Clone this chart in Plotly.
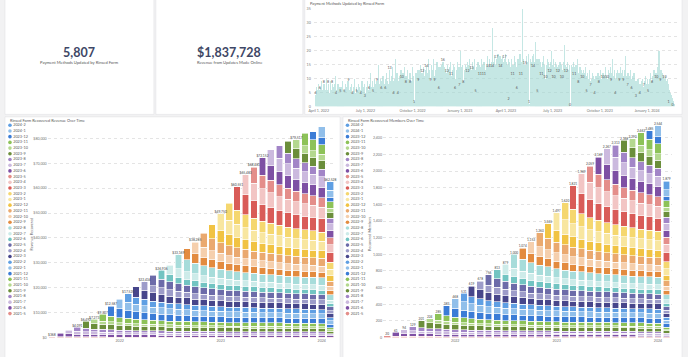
import plotly.graph_objects as go
from datetime import date, timedelta

W, H = 688, 357

# ---------------- data ----------------
kpi_values = ["5,807", "$1,837,728"]
kpi_labels = ["Payment Methods Updated by Rinsed Form", "Revenue from Updates Made Online"]

cohorts = ["2021-5", "2021-6", "2021-7", "2021-8", "2021-9", "2021-10", "2021-11", "2021-12",
           "2022-1", "2022-2", "2022-3", "2022-4", "2022-5", "2022-6", "2022-7", "2022-8",
           "2022-9", "2022-10", "2022-11", "2022-12", "2023-1", "2023-2", "2023-3", "2023-4",
           "2023-5", "2023-6", "2023-7", "2023-8", "2023-9", "2023-10", "2023-11", "2023-12",
           "2024-1", "2024-2"]

# recovered members per cohort (row) for each month from the cohort's own month on
members_rows = [
    [20,17,15,14,14,13,13,12,12,12,11,11,11,11,11,11,11,10,10,10,10,10,10,10,10,10,10,10,10,10,9,9,9,7],
    [44,37,34,32,30,29,28,27,26,26,25,25,24,24,24,23,23,23,23,22,22,22,22,22,22,22,22,21,21,21,21,21,15],
    [42,36,32,30,29,27,26,26,25,24,24,24,23,23,23,22,22,22,22,21,21,21,21,21,21,21,21,20,20,20,20,14],
    [45,38,35,32,31,29,28,27,27,26,26,25,25,24,24,24,24,23,23,23,23,23,23,23,22,22,22,22,22,22,15],
    [85,72,65,61,58,55,54,52,50,49,48,48,47,46,46,45,45,44,44,43,43,43,43,43,42,42,42,41,41,29],
    [44,37,34,32,30,29,28,27,26,26,25,25,24,24,24,23,23,23,23,22,22,22,22,22,22,22,22,21,15],
    [80,68,62,58,54,52,50,49,47,46,46,45,44,43,43,42,42,42,42,41,41,40,40,40,39,39,39,28],
    [122,104,94,88,83,79,77,74,72,71,70,68,67,66,66,65,65,63,63,62,62,61,61,61,60,60,43],
    [118,100,91,85,80,77,74,72,70,68,67,66,65,64,64,63,63,61,61,60,60,59,59,59,58,42],
    [102,87,79,73,69,66,64,62,60,59,58,57,56,55,55,54,54,53,53,52,52,51,51,51,36],
    [127,108,98,91,86,83,80,77,75,74,72,71,70,69,69,67,67,66,66,65,65,64,64,46],
    [104,88,80,75,71,68,66,63,61,60,59,58,57,56,56,55,55,54,54,53,53,52,37],
    [125,106,96,90,85,81,79,76,74,73,71,70,69,68,68,66,66,65,65,64,64,45],
    [104,88,80,75,71,68,66,63,61,60,59,58,57,56,56,55,55,54,54,53,38],
    [116,99,89,84,79,75,73,71,68,67,66,65,64,63,63,61,61,60,60,43],
    [167,142,129,120,114,109,105,102,99,97,95,94,92,90,90,89,89,87,63],
    [133,113,102,96,90,86,84,81,78,77,76,74,73,72,72,70,70,50],
    [140,119,108,101,95,91,88,85,83,81,80,78,77,76,76,74,53],
    [168,143,129,121,114,109,106,102,99,97,96,94,92,91,91,64],
    [170,145,131,122,116,111,107,104,100,99,97,95,94,92,66],
    [205,174,158,148,139,133,129,125,121,119,117,115,113,80],
    [202,172,156,145,137,131,127,123,119,117,115,113,80],
    [282,240,217,203,192,183,178,172,166,164,161,114],
    [243,207,187,175,165,158,153,148,143,141,100],
    [193,164,149,139,131,125,122,118,114,81],
    [208,177,160,150,141,135,131,127,88],
    [192,163,148,138,131,125,121,84],
    [147,125,113,106,100,96,67],
    [143,122,110,103,97,67],
    [109,93,84,78,53],
    [150,128,116,78],
    [100,85,55],
    [133,81],
    [102],
]

# recovered revenue ($) per cohort (row) for each month from the cohort's own month on
revenue_rows = [
    [368,313,276,258,258,239,239,221,221,221,202,202,202,202,202,202,202,184,184,184,184,184,184,184,184,184,184,184,184,184,166,166,166,129],
    [1467,1233,1133,1067,1000,967,933,900,867,867,833,833,800,800,800,767,767,767,767,733,733,733,733,733,733,733,733,700,700,700,700,700,500],
    [1400,1200,1067,1000,967,900,867,867,833,800,800,800,767,767,767,733,733,733,733,700,700,700,700,700,700,700,700,667,667,667,667,467],
    [1500,1267,1167,1067,1033,967,933,900,900,867,867,833,833,800,800,800,800,767,767,767,767,767,767,767,733,733,733,733,733,733,500],
    [2833,2400,2167,2033,1933,1833,1800,1733,1667,1633,1600,1600,1567,1533,1533,1500,1500,1467,1467,1433,1433,1433,1433,1433,1400,1400,1400,1367,1367,967],
    [1467,1233,1133,1067,1000,967,933,900,867,867,833,833,800,800,800,767,767,767,767,733,733,733,733,733,733,733,733,700,500],
    [2667,2267,2067,1933,1800,1733,1667,1633,1567,1533,1533,1500,1467,1433,1433,1400,1400,1400,1400,1367,1367,1333,1333,1333,1300,1300,1300,933],
    [4067,3467,3133,2933,2767,2633,2567,2467,2400,2367,2333,2267,2233,2200,2200,2167,2167,2100,2100,2067,2067,2033,2033,2033,2000,2000,1433],
    [3933,3333,3033,2833,2667,2567,2467,2400,2333,2267,2233,2200,2167,2133,2133,2100,2100,2033,2033,2000,2000,1967,1967,1967,1933,1400],
    [3400,2900,2633,2433,2300,2200,2133,2067,2000,1967,1933,1900,1867,1833,1833,1800,1800,1767,1767,1733,1733,1700,1700,1700,1200],
    [4233,3600,3267,3033,2867,2767,2667,2567,2500,2467,2400,2367,2333,2300,2300,2233,2233,2200,2200,2167,2167,2133,2133,1533],
    [3467,2933,2667,2500,2367,2267,2200,2100,2033,2000,1967,1933,1900,1867,1867,1833,1833,1800,1800,1767,1767,1733,1233],
    [4167,3533,3200,3000,2833,2700,2633,2533,2467,2433,2367,2333,2300,2267,2267,2200,2200,2167,2167,2133,2133,1500],
    [3467,2933,2667,2500,2367,2267,2200,2100,2033,2000,1967,1933,1900,1867,1867,1833,1833,1800,1800,1767,1267],
    [3867,3300,2967,2800,2633,2500,2433,2367,2267,2233,2200,2167,2133,2100,2100,2033,2033,2000,2000,1433],
    [5567,4733,4300,4000,3800,3633,3500,3400,3300,3233,3167,3133,3067,3000,3000,2967,2967,2900,2100],
    [4433,3767,3400,3200,3000,2867,2800,2700,2600,2567,2533,2467,2433,2400,2400,2333,2333,1667],
    [4667,3967,3600,3367,3167,3033,2933,2833,2767,2700,2667,2600,2567,2533,2533,2467,1767],
    [5600,4767,4300,4033,3800,3633,3533,3400,3300,3233,3200,3133,3067,3033,3033,2133],
    [5667,4833,4367,4067,3867,3700,3567,3467,3333,3300,3233,3167,3133,3067,2200],
    [6833,5800,5267,4933,4633,4433,4300,4167,4033,3967,3900,3833,3767,2667],
    [6733,5733,5200,4833,4567,4367,4233,4100,3967,3900,3833,3767,2667],
    [9400,8000,7233,6767,6400,6100,5933,5733,5533,5467,5367,3800],
    [8100,6900,6233,5833,5500,5267,5100,4933,4767,4700,3333],
    [6433,5467,4967,4633,4367,4167,4067,3933,3800,2700],
    [6933,5900,5333,5000,4700,4500,4367,4233,2933],
    [6400,5433,4933,4600,4367,4167,4033,2800],
    [4900,4167,3767,3533,3333,3200,2233],
    [4767,4067,3667,3433,3233,2233],
    [3633,3100,2800,2600,1767],
    [5000,4267,3867,2600],
    [3333,2833,1833],
    [4433,2700],
    [3400],
]

daily_start = "2022-03-26"
daily_updates = [
    4,7,5,3,6,8,5,6, 6,4,7,9,5,3,6,8, 8,5,6,4,7,10,6,5, 8,6,3,5,9,7,4,6,
    8,5,7,6,4,8,11,5, 4,6,5,8,3,6,7,5, 5,7,4,6,9,5,3,6, 5,8,6,4,7,5,9,4,
    9,6,5,7,4,8,6,5, 4,7,5,6,10,5,4,7, 5,3,6,8,5,7,4,6, 4,6,9,5,7,3,6,8,
    3,5,7,4,6,9,5,6, 6,8,5,12,7,4,6,9, 5,7,10,6,8,5,9,7, 9,6,15,8,5,7,10,6,
    6,9,7,11,5,8,6,10, 6,8,12,7,9,5,8,7, 13,9,7,11,8,14,6,9, 4,8,10,17,7,9,12,6,
    4,9,7,11,8,6,13,10, 10,7,12,9,14,8,6,11, 8,11,7,13,9,10,6,12, 8,12,9,7,14,10,8,11,
    1,2,9,12,8,10,13,7, 9,13,11,8,15,10,12,9, 12,9,14,11,8,13,10,15, 14,10,12,17,9,13,11,8,
    9,12,15,10,13,8,17,11, 9,13,10,12,16,9,14,11, 6,11,14,9,12,10,15,8, 16,12,10,14,11,13,9,12,
    12,15,10,13,9,14,11,16, 11,8,13,10,15,12,9,14, 6,10,13,11,16,9,12,14, 7,12,20,10,14,11,15,9,
    8,13,11,15,10,14,12,16, 12,15,10,17,13,11,14,12, 13,10,16,12,14,11,17,13, 5,11,14,12,16,13,10,15,
    11,14,12,17,13,15,10,16, 11,16,13,10,15,12,18,14, 14,12,17,13,15,11,16,13, 14,28,12,16,13,18,11,15,
    17,13,15,19,12,16,14,18, 14,17,12,15,18,13,16,12, 17,14,19,13,16,12,15,17, 2,12,16,14,11,17,13,15,
    11,15,13,18,12,16,14,10, 6,13,17,12,15,11,19,14, 11,16,13,35,14,17,12,15, 15,12,18,14,16,13,19,11,
    1,0,14,17,13,16,12,18, 14,19,12,16,23,13,15,17, 5,15,12,17,14,11,16,13, 11,14,16,12,18,13,15,10,
    10,15,13,17,12,16,11,14, 12,16,14,20,13,15,11,17, 10,14,12,16,13,15,11,14, 12,15,13,11,16,14,12,15,
    10,13,16,12,14,22,11,15, 12,14,11,16,13,12,15,10, 0,0,12,15,11,14,13,16, 11,14,12,15,10,13,17,12,
    8,12,10,14,11,13,9,12, 10,13,9,12,11,14,8,11, 5,9,12,10,8,11,13,9, 7,10,8,12,9,11,7,10,
    4,8,11,9,7,10,12,8, 8,11,9,13,10,8,12,9, 10,12,8,11,14,9,11,10, 10,9,13,11,8,12,10,14,
    9,12,10,17,11,8,13,10, 4,10,12,9,13,11,8,12, 9,11,14,10,12,9,13,11, 9,13,10,12,18,11,9,12,
    7,10,12,9,11,13,8,10, 6,9,11,8,12,10,7,9, 3,7,9,6,10,8,5,8, 4,8,6,9,7,10,5,7,
    7,9,6,11,8,5,10,8, 5,8,10,7,9,12,6,9, 8,11,9,13,10,7,12,10, 10,12,9,14,11,20,10,13,
    9,11,13,10,12,8,11,9, 10,8,11,9,7,10,6,8, 1,4,6,3,5,2,4,3, 0,2,1,0,
]

rev_label_idx = [0, 3, 4, 5, 6, 7, 9, 11, 13, 15, 17, 20, 22, 23, 24, 25, 29, 33]

# ---------------- styling ----------------
FONT = "Lato"
BG = "#f2f2f3"
TXT = "#5a5a5a"
palette = ["#d95c58", "#f2c5c4", "#e48e8a", "#7e50a4", "#cbb9de", "#a285c7",
           "#6b8e3b", "#b4d88f", "#8dc258", "#3b7cd6", "#91bfea", "#5f9fe3",
           "#47468b", "#9d9cc9", "#6c6ba9", "#72c4c2", "#cdebe9", "#a7dcda",
           "#e38b3f", "#f5cfad", "#eaa96f", "#f1c343", "#f8e6a0", "#f5d76f"]


def px_x(v):
    return v / W


def px_y(v):
    return 1 - v / H


def cohort_date(s):
    y, m = s.split("-")
    return f"{int(y)}-{int(m):02d}-01"


def cohort_color(s):
    y, m = s.split("-")
    return palette[((int(y) - 2021) * 12 + int(m) - 3) % 24]


months = [cohort_date(c) for c in cohorts]
colors = [cohort_color(c) for c in cohorts]
n = len(cohorts)


def totals(rows):
    return [sum(rows[c][m - c] for c in range(m + 1)) for m in range(n)]


fig = go.Figure()

# ---------------- top daily chart ----------------
d0 = date.fromisoformat(daily_start)
ddates = [(d0 + timedelta(days=i)).isoformat() for i in range(len(daily_updates))]
fig.add_trace(go.Bar(x=ddates, y=daily_updates, xaxis="x", yaxis="y",
                     marker=dict(color="#9fd8d2", line=dict(width=0)), opacity=0.6,
                     width=86400000 * 0.4, showlegend=False, hoverinfo="skip"))
lab_i = list(range(0, len(daily_updates), 8))
fig.add_trace(go.Scatter(x=[ddates[i] for i in lab_i], y=[daily_updates[i] for i in lab_i],
                         text=[str(daily_updates[i]) for i in lab_i], mode="text",
                         textposition="top center", textfont=dict(size=3.6, color="#555", family=FONT),
                         xaxis="x", yaxis="y", showlegend=False, hoverinfo="skip", cliponaxis=False))

# ---------------- stacked cohort charts ----------------
BW = 24 * 86400000
for i in range(n):
    fig.add_trace(go.Bar(x=months[i:], y=revenue_rows[i], xaxis="x2", yaxis="y2", name=cohorts[i],
                         marker=dict(color=colors[i], line=dict(color="white", width=0.6)),
                         width=BW, showlegend=False, hoverinfo="skip"))
    fig.add_trace(go.Bar(x=months[i:], y=members_rows[i], xaxis="x3", yaxis="y3", name=cohorts[i],
                         marker=dict(color=colors[i], line=dict(color="white", width=0.6)),
                         width=BW, showlegend=False, hoverinfo="skip"))

rev_tot = totals(revenue_rows)
mem_tot = totals(members_rows)
fig.add_trace(go.Scatter(x=[months[i] for i in rev_label_idx], y=[rev_tot[i] for i in rev_label_idx],
                         text=[f"${rev_tot[i]:,.0f}" for i in rev_label_idx], mode="text",
                         textposition="top center", textfont=dict(size=3.3, color="#444", family=FONT),
                         xaxis="x2", yaxis="y2", showlegend=False, hoverinfo="skip", cliponaxis=False))
fig.add_trace(go.Scatter(x=months, y=mem_tot, text=[f"{t:,}" for t in mem_tot], mode="text",
                         textposition="top center", textfont=dict(size=3.2, color="#444", family=FONT),
                         xaxis="x3", yaxis="y3", showlegend=False, hoverinfo="skip", cliponaxis=False))

# manual legends (one row per cohort, newest on top)
for ax in ("4", "5"):
    fig.add_trace(go.Scatter(x=[4] * n, y=list(range(n)), text=cohorts, mode="markers+text",
                             textposition="middle right",
                             marker=dict(color=colors, size=3.6),
                             textfont=dict(size=3.8, color=TXT, family=FONT),
                             xaxis="x" + ax, yaxis="y" + ax, showlegend=False, hoverinfo="skip",
                             cliponaxis=False))

# ---------------- layout ----------------
tickf = dict(size=3.6, color="#777", family=FONT)
grid = dict(showgrid=True, gridcolor="#e4e4e4", gridwidth=0.6, griddash="dot", zeroline=False,
            showline=False, ticks="", tickfont=tickf)

rev_top = 122
scale_rev = (339.3 - 137.3) / 80000
scale_mem = (339.3 - 136.7) / 2400

layout = dict(
    width=W, height=H, margin=dict(l=0, r=0, t=0, b=0),
    paper_bgcolor=BG, plot_bgcolor="rgba(0,0,0,0)",
    font=dict(family=FONT, color=TXT), barmode="stack", showlegend=False,
    xaxis=dict(domain=[px_x(311), px_x(677)], type="date",
               range=["2022-03-22 08:00", "2024-02-28 16:00"],
               tick0="2022-04-01", dtick="M3", tickformat="%B %-d, %Y",
               showgrid=False, zeroline=False, ticks="", tickfont=tickf, anchor="y",
               ticklabelstandoff=1),
    yaxis=dict(domain=[px_y(105), px_y(6)], range=[0, 35], dtick=5, anchor="x",
               ticklabelstandoff=2, **grid),
    xaxis2=dict(domain=[px_x(43), px_x(333)], type="date", range=["2021-04-16", "2024-02-20"],
                tick0="2022-01-01", dtick="M12", tickformat="%Y", showgrid=False, zeroline=False,
                ticks="", tickfont=tickf, anchor="y2"),
    yaxis2=dict(domain=[px_y(339.3), px_y(rev_top)], range=[0, (339.3 - rev_top) / scale_rev],
                dtick=10000, tickprefix="$", tickformat=",.0f", anchor="x2", **grid),
    xaxis3=dict(domain=[px_x(380.8), px_x(671.8)], type="date", range=["2021-04-16", "2024-02-20"],
                tick0="2022-01-01", dtick="M12", tickformat="%Y", showgrid=False, zeroline=False,
                ticks="", tickfont=tickf, anchor="y3"),
    yaxis3=dict(domain=[px_y(339.3), px_y(rev_top)], range=[0, (339.3 - rev_top) / scale_mem],
                dtick=200, tickformat=",", anchor="x3", **grid),
    xaxis4=dict(domain=[px_x(1), px_x(41)], range=[0, 40], visible=False, anchor="y4"),
    yaxis4=dict(domain=[px_y(315), px_y(124)], range=[0, n - 1], visible=False, anchor="x4"),
    xaxis5=dict(domain=[px_x(341), px_x(381)], range=[0, 40], visible=False, anchor="y5"),
    yaxis5=dict(domain=[px_y(315), px_y(124)], range=[0, n - 1], visible=False, anchor="x5"),
)
fig.update_layout(**layout)

# cards
cards = [(0, -6, 150, 113), (152, -6, 300, 113), (302, -6, 682, 113),
         (0, 115.5, 337.5, 362), (340.5, 115.5, 682, 362)]
shapes = []
for x0, y0, x1, y1 in cards:
    shapes.append(dict(type="rect", xref="paper", yref="paper", x0=px_x(x0), x1=px_x(x1),
                       y0=px_y(y1), y1=px_y(y0), fillcolor="white",
                       line=dict(color="#e3e3e5", width=0.6), layer="below"))
fig.update_layout(shapes=shapes)

ann = []


def add_text(x, y, text, size, color=TXT, xanchor="center", angle=0, bold=False):
    ann.append(dict(x=px_x(x), y=px_y(y), xref="paper", yref="paper", showarrow=False,
                    text=f"<b>{text}</b>" if bold else text, xanchor=xanchor, yanchor="middle",
                    textangle=angle, font=dict(size=size, color=color, family=FONT)))


add_text(75, 50, kpi_values[0], 12.5, color="#3e4766", bold=True)
add_text(75, 60.7, kpi_labels[0], 4.1, color="#555")
add_text(226, 50, kpi_values[1], 12.5, color="#3e4766", bold=True)
add_text(226, 60.7, kpi_labels[1], 4.1, color="#555")
add_text(305, 0.2, "Payment Methods Updated by Rinsed Form", 3.9, color="#555", xanchor="left")
add_text(3.5, 119.5, "Rinsed Form Recovered Revenue Over Time", 3.9, color="#555", xanchor="left")
add_text(343.5, 119.5, "Rinsed Form Recovered Members Over Time", 3.9, color="#555", xanchor="left")
add_text(27, 234, "Revenue Recovered", 3.8, color="#666", angle=-90)
add_text(367, 234, "Recovered Members", 3.8, color="#666", angle=-90)
fig.update_layout(annotations=ann)

fig.write_html("out.html", config={"displayModeBar": False},
               post_script="document.body.style.margin='0';document.body.style.overflow='hidden';")
